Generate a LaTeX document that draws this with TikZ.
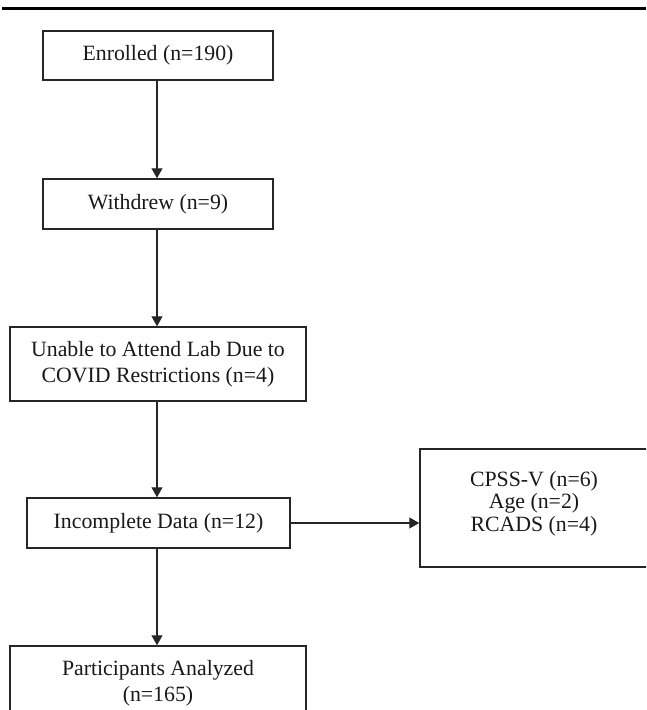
\documentclass[tikz,border=0pt]{standalone}
\usepackage{fontspec}
\setmainfont{Liberation Serif}
\usetikzlibrary{arrows.meta}
\begin{document}
\begin{tikzpicture}[x=1pt,y=-1pt,
  stagebox/.style={draw=black!85, line width=1.5pt, inner sep=0pt, align=center,
    font=\fontsize{21.8}{26}\selectfont, text=black!90},
  flow/.style={draw=black!85, line width=1.2pt, -{Triangle[length=10pt,width=11pt]}},
  rule/.style={draw=black, line width=2.7pt}]
\clip (0,0) rectangle (646,710);
\fill[white] (0,0) rectangle (646,710);
\coordinate (ruleL) at (2,8.3);
\coordinate (ruleR) at (646,8.3);
\draw[rule] (ruleL) -- (ruleR);
\node[stagebox, minimum width=230pt, minimum height=49pt] (enrolled) at (158,55.5) {Enrolled (n=190)};
\node[stagebox, minimum width=230pt, minimum height=50pt] (withdrew) at (158,204) {Withdrew (n=9)};
\node[stagebox, minimum width=296pt, minimum height=74pt] (unable) at (158,364) {Unable to Attend Lab Due to\\COVID Restrictions (n=4)};
\node[stagebox, minimum width=263pt, minimum height=50pt] (incomplete) at (158.5,523) {Incomplete Data (n=12)};
\node[stagebox, minimum width=228pt, minimum height=118pt] (reasons) at (534,508) {};
\node[align=center, inner sep=0pt, font=\fontsize{21.8}{22.6}\selectfont, text=black!90] (reasonstext) at (534,503.5) {CPSS-V (n=6)\\Age (n=2)\\RCADS (n=4)};
\node[stagebox, minimum width=296pt, minimum height=74pt] (analyzed) at (158,683) {Participants Analyzed\\(n=165)};
\draw[flow] (enrolled.south -| 157,0) -- (withdrew.north -| 157,0);
\draw[flow] (withdrew.south -| 157,0) -- (unable.north -| 157,0);
\draw[flow] (unable.south -| 157,0) -- (incomplete.north -| 157,0);
\draw[flow] (incomplete.south -| 157,0) -- (analyzed.north -| 157,0);
\draw[flow] (incomplete.east) -- (incomplete.east -| reasons.west);
\end{tikzpicture}
\end{document}
